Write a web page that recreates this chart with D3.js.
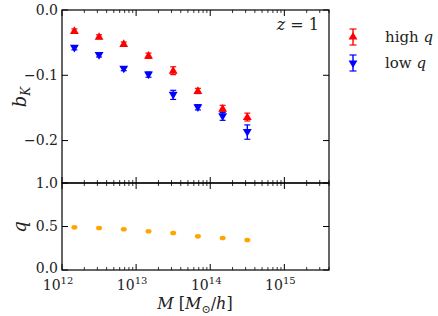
<!DOCTYPE html>
<html><head><meta charset="utf-8">
<script src="https://cdn.jsdelivr.net/npm/d3@7/dist/d3.min.js"></script>
<style>
body{margin:0;background:#fff;}
svg{display:block;}
svg text{font-family:'DejaVu Serif','Liberation Serif',serif;}
</style></head>
<body><svg id="c" width="438" height="316"></svg>
<script>
// ---- data ----
const logMass = [12.167, 12.5, 12.833, 13.167, 13.5, 13.833, 14.167, 14.5];
const bkHigh = [-0.032, -0.041, -0.052, -0.070, -0.093, -0.124, -0.151, -0.164];
const bkHighErr = [0.003, 0.003, 0.003, 0.004, 0.006, 0.004, 0.005, 0.006];
const bkLow = [-0.058, -0.069, -0.090, -0.099, -0.130, -0.149, -0.163, -0.187];
const bkLowErr = [0.003, 0.003, 0.003, 0.004, 0.007, 0.004, 0.006, 0.011];
const qVals = [0.49, 0.483, 0.468, 0.445, 0.425, 0.387, 0.368, 0.345];
const qErr = [0.008, 0.008, 0.008, 0.008, 0.008, 0.008, 0.008, 0.008];
const bkTicks = [0, -0.1, -0.2];
const qTicks = [0, 0.5, 1.0];
const xMajor = [12, 13, 14, 15];
const legendLabels = ["high q", "low q"];

const svg = d3.select("#c");
const TXT = "#222";
const L = 62, R = 329, T = 10, M = 183, B = 270;
const x = d3.scaleLog().domain([1e12, 4e15]).range([L, R]);
const yTop = d3.scaleLinear().domain([-0.265, 0]).range([M, T]);
const yBot = d3.scaleLinear().domain([0, 1]).range([B, M]);

const fmt = v => (v < 0 ? "\u2212" : "") + Math.abs(v).toFixed(1);

const minors = [];
for (let e = 12; e <= 15; e++) for (let k = 2; k <= 9; k++) { const v = k * Math.pow(10, e); if (v <= 4e15) minors.push(v); }
const majors = xMajor.map(e => Math.pow(10, e));

function xTicks(g, yEdge, dir) {
  majors.forEach(v => g.append("line").attr("x1", x(v)).attr("x2", x(v)).attr("y1", yEdge).attr("y2", yEdge + dir * 6).attr("stroke", "#000").attr("stroke-width", 1));
  minors.forEach(v => g.append("line").attr("x1", x(v)).attr("x2", x(v)).attr("y1", yEdge).attr("y2", yEdge + dir * 3).attr("stroke", "#000").attr("stroke-width", 0.8));
}
function yTicksFn(g, ys, ticks) {
  ticks.forEach(t => {
    g.append("line").attr("x1", L).attr("x2", L + 6).attr("y1", ys(t)).attr("y2", ys(t)).attr("stroke", "#000");
    g.append("line").attr("x1", R).attr("x2", R - 6).attr("y1", ys(t)).attr("y2", ys(t)).attr("stroke", "#000");
    g.append("text").attr("x", L - 4).attr("y", ys(t) - (ys === yBot && t === 0 ? 2 : 0)).attr("dy", "0.35em").attr("text-anchor", "end").attr("font-size", 14).attr("fill", TXT).text(fmt(t));
  });
}

const g = svg.append("g");
xTicks(g, T, 1);
xTicks(g, M, -1);
yTicksFn(g, yTop, bkTicks);
xTicks(g, M, 1);
xTicks(g, B, -1);
yTicksFn(g, yBot, qTicks);

g.append("rect").attr("x", L).attr("y", T).attr("width", R - L).attr("height", M - T).attr("fill", "none").attr("stroke", "#000").attr("stroke-width", 1.2);
g.append("rect").attr("x", L).attr("y", M).attr("width", R - L).attr("height", B - M).attr("fill", "none").attr("stroke", "#000").attr("stroke-width", 1.2);

xMajor.forEach(e => {
  const t = g.append("text").attr("x", x(Math.pow(10, e)) - 4).attr("y", 290).attr("text-anchor", "middle").attr("font-size", 14).attr("fill", TXT);
  t.append("tspan").text("10");
  t.append("tspan").attr("dy", -6).attr("font-size", 10).text(String(e));
});

const tri = d3.symbol().type(d3.symbolTriangle).size(34);
function errSeries(vals, errs, color, up) {
  const gg = g.append("g");
  vals.forEach((v, i) => {
    const cx = x(Math.pow(10, logMass[i]));
    const y1 = yTop(v - errs[i]), y2 = yTop(v + errs[i]);
    gg.append("line").attr("x1", cx).attr("x2", cx).attr("y1", y1).attr("y2", y2).attr("stroke", color).attr("stroke-width", 1.4);
    [y1, y2].forEach(yy => gg.append("line").attr("x1", cx - 3).attr("x2", cx + 3).attr("y1", yy).attr("y2", yy).attr("stroke", color).attr("stroke-width", 1.2));
    gg.append("path").attr("d", tri).attr("fill", color)
      .attr("transform", `translate(${cx},${yTop(v) + (up ? 0.5 : -0.5)}) rotate(${up ? 0 : 180})`);
  });
}
errSeries(bkHigh, bkHighErr, "#ff0000", true);
errSeries(bkLow, bkLowErr, "#0000ff", false);

qVals.forEach((v, i) => {
  const cx = x(Math.pow(10, logMass[i]));
  g.append("line").attr("x1", cx).attr("x2", cx).attr("y1", yBot(v - qErr[i])).attr("y2", yBot(v + qErr[i])).attr("stroke", "#ffa500").attr("stroke-width", 1);
  g.append("ellipse").attr("cx", cx).attr("cy", yBot(v)).attr("rx", 3).attr("ry", 2.3).attr("fill", "#ffa500");
});

const zt = g.append("text").attr("x", 319).attr("y", 30).attr("text-anchor", "end").attr("font-size", 16).attr("fill", TXT);
zt.append("tspan").attr("font-style", "italic").text("z");
zt.append("tspan").text(" = 1");

const legColors = ["#ff0000", "#0000ff"];
legendLabels.forEach((lab, i) => {
  const cy = 37 + i * 26, cx = 353;
  g.append("line").attr("x1", cx).attr("x2", cx).attr("y1", cy - 8).attr("y2", cy + 8).attr("stroke", legColors[i]).attr("stroke-width", 1.4);
  [cy - 8, cy + 8].forEach(yy => g.append("line").attr("x1", cx - 3.5).attr("x2", cx + 3.5).attr("y1", yy).attr("y2", yy).attr("stroke", legColors[i]).attr("stroke-width", 1.2));
  g.append("path").attr("d", tri).attr("fill", legColors[i]).attr("transform", `translate(${cx},${cy}) rotate(${i === 0 ? 0 : 180})`);
  const t = g.append("text").attr("x", 385).attr("y", cy).attr("dy", "0.35em").attr("font-size", 15).attr("fill", TXT);
  const parts = lab.split(" ");
  t.append("tspan").text(parts[0] + " ");
  t.append("tspan").attr("font-style", "italic").text(parts[1]);
});

const bl = g.append("text").attr("transform", "translate(26,97) rotate(-90)").attr("text-anchor", "middle").attr("font-size", 18).attr("fill", TXT);
bl.append("tspan").attr("font-style", "italic").text("b");
bl.append("tspan").attr("font-style", "italic").attr("font-size", 12).attr("dy", 4).text("K");
g.append("text").attr("transform", "translate(26,227) rotate(-90)").attr("text-anchor", "middle").attr("font-size", 18).attr("font-style", "italic").attr("fill", TXT).text("q");

const xl = g.append("text").attr("x", 195).attr("y", 309).attr("text-anchor", "middle").attr("font-size", 16).attr("fill", TXT);
xl.append("tspan").attr("font-style", "italic").text("M");
xl.append("tspan").text(" [");
xl.append("tspan").attr("font-style", "italic").text("M");
xl.append("tspan").attr("font-size", 11).attr("dy", 4).text("\u2299");
xl.append("tspan").attr("dy", -4).text("/");
xl.append("tspan").attr("font-style", "italic").text("h");
xl.append("tspan").text("]");
</script></body></html>
